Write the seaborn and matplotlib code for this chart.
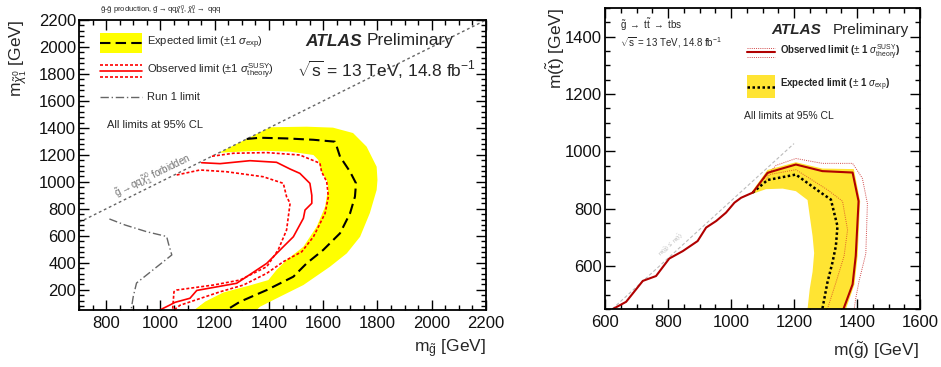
import matplotlib
matplotlib.use("Agg")
import matplotlib.pyplot as plt
import numpy as np
import pandas as pd
import seaborn as sns
from matplotlib.ticker import MultipleLocator
from matplotlib.lines import Line2D
from matplotlib.patches import Rectangle

# ---------------- Left: gluino -> qq chi, chi -> qqq (RPV) ----------------
exp_x = [1318, 1367, 1465, 1564, 1643, 1650, 1662, 1699, 1721, 1717, 1699, 1662, 1600, 1539, 1490, 1392, 1293, 1244]
exp_y = [1318, 1327, 1322, 1312, 1298, 1261, 1187, 1075, 989, 890, 767, 619, 495, 396, 297, 198, 111, 50]

band_out_x = [1405, 1539, 1636, 1710, 1760, 1797, 1800, 1797, 1772, 1736, 1687, 1625, 1527, 1441, 1367, 1355]
band_out_y = [1405, 1409, 1402, 1362, 1261, 1112, 1014, 940, 769, 593, 470, 371, 235, 149, 74, 50]
band_in_x = [1215, 1293, 1379, 1478, 1564, 1582, 1594, 1613, 1619, 1613, 1607, 1576, 1527, 1465, 1428, 1398, 1324, 1232, 1165, 1125]
band_in_y = [1215, 1224, 1231, 1224, 1199, 1162, 1075, 1014, 950, 890, 816, 668, 519, 421, 347, 272, 229, 180, 112, 50]

obs_x = [1152, 1220, 1330, 1428, 1478, 1514, 1551, 1558, 1558, 1533, 1527, 1490, 1453, 1392, 1318, 1281, 1134, 1109, 1054, 1035, 998]
obs_y = [1142, 1135, 1157, 1145, 1095, 1063, 989, 900, 841, 791, 730, 593, 519, 396, 297, 248, 195, 137, 107, 87, 50]

obs_up_x = [1190, 1269, 1392, 1514, 1588, 1594, 1613, 1619, 1607, 1564, 1521, 1453, 1392, 1306, 1220, 1146, 1072, 1050]
obs_up_y = [1190, 1212, 1217, 1199, 1138, 1075, 1001, 890, 767, 593, 482, 408, 322, 235, 185, 135, 85, 50]

obs_dn_x = [1060, 1146, 1244, 1379, 1453, 1465, 1478, 1465, 1434, 1392, 1293, 1195, 1060, 1050, 1045]
obs_dn_y = [1051, 1088, 1075, 1038, 989, 890, 841, 643, 495, 371, 272, 235, 198, 186, 50]

run1_x = [812, 870, 950, 1023, 1030, 1042, 912, 900, 892]
run1_y = [725, 680, 630, 595, 540, 458, 250, 150, 50]

kin_x = [700, 2200]
kin_y = [700, 2200]

# ---------------- Right: gluino -> t stop, stop -> bs ----------------
r_obs_x = [625, 667, 720, 762, 804, 847, 894, 921, 953, 984, 1011, 1032, 1069, 1116, 1159, 1206, 1290, 1386, 1405, 1396, 1386, 1357]
r_obs_y = [450, 475, 548, 565, 626, 652, 687, 734, 757, 786, 821, 838, 856, 925, 939, 954, 931, 926, 826, 635, 536, 450]

r_up_x = [1105, 1143, 1206, 1290, 1386, 1417, 1433, 1428, 1407, 1396, 1391]
r_up_y = [905, 951, 975, 958, 958, 906, 818, 643, 550, 487, 450]

r_dn_x = [1110, 1122, 1206, 1306, 1354, 1370, 1359, 1333, 1306]
r_dn_y = [895, 919, 936, 866, 826, 726, 635, 542, 450]

r_exp_x = [1069, 1116, 1206, 1285, 1317, 1338, 1333, 1322, 1306, 1290]
r_exp_y = [856, 900, 919, 856, 832, 739, 670, 612, 542, 450]

r_band_out_x = [1060, 1116, 1206, 1290, 1390, 1410, 1402, 1392, 1365]
r_band_out_y = [850, 935, 962, 940, 938, 826, 635, 536, 450]
r_band_in_x = [1243, 1250, 1259, 1264, 1259, 1248, 1243, 1206, 1164, 1111, 1069]
r_band_in_y = [450, 520, 580, 645, 704, 790, 830, 861, 870, 868, 852]

r_kin_x = [623, 1200]
r_kin_y = [450, 1027]

# ---------------- style ----------------
sns.set_theme(style="ticks")
plt.rcParams["font.family"] = ["Liberation Sans", "DejaVu Sans"]
plt.rcParams["mathtext.fontset"] = "custom"
plt.rcParams["mathtext.rm"] = "Liberation Sans"
plt.rcParams["mathtext.it"] = "Liberation Sans:italic"
plt.rcParams["mathtext.bf"] = "Liberation Sans:bold"
plt.rcParams["mathtext.sf"] = "Liberation Sans"

W, H = 941, 367
fig = plt.figure(figsize=(W / 100, H / 100), dpi=100)


def fx(x):
    return x / W


def fy(y):
    return 1 - y / H


def line(ax, xs, ys, **kw):
    df = pd.DataFrame({"x": xs, "y": ys})
    sns.lineplot(data=df, x="x", y="y", sort=False, estimator=None, ax=ax, **kw)


def style_axes(ax, xlim, ylim, xminor, yminor):
    ax.set_xlim(*xlim)
    ax.set_ylim(*ylim)
    ax.xaxis.set_major_locator(MultipleLocator(200))
    ax.yaxis.set_major_locator(MultipleLocator(200))
    ax.xaxis.set_minor_locator(MultipleLocator(xminor))
    ax.yaxis.set_minor_locator(MultipleLocator(yminor))
    ax.tick_params(which="both", direction="in", top=True, right=True,
                   color="black", width=1.0, labelsize=12, labelcolor="#111111")
    ax.tick_params(which="major", length=7)
    ax.tick_params(which="minor", length=3.5)
    ax.tick_params(axis="x", pad=4)
    ax.tick_params(axis="y", pad=2)
    for s in ax.spines.values():
        s.set_color("black")
        s.set_linewidth(1.3)
    ax.set_xlabel("")
    ax.set_ylabel("")


# ---------------- left panel ----------------
axL = fig.add_axes([fx(79), fy(310), 407 / W, 290 / H])
band = list(zip(band_out_x, band_out_y)) + list(zip(band_in_x, band_in_y))[::-1]
axL.fill([p[0] for p in band], [p[1] for p in band], color="#ffff00", lw=0, zorder=1)
line(axL, kin_x, kin_y, color="#666666", lw=1.0, linestyle=(0, (2, 2)))
line(axL, run1_x, run1_y, color="#666666", lw=1.0, linestyle=(0, (6, 2, 1, 2)))
line(axL, exp_x, exp_y, color="black", lw=1.5, linestyle=(0, (5, 2.5)))
line(axL, obs_up_x, obs_up_y, color="#ff0000", lw=1.2, linestyle=(0, (1.8, 1.2)))
line(axL, obs_dn_x, obs_dn_y, color="#ff0000", lw=1.2, linestyle=(0, (1.8, 1.2)))
line(axL, obs_x, obs_y, color="#ff0000", lw=1.2)
style_axes(axL, (700, 2200), (50, 2200), 50, 40)

fig.text(fx(100), fy(10),
         r"$\tilde{\mathrm{g}}$-$\tilde{\mathrm{g}}$ production, $\tilde{\mathrm{g}}\rightarrow\mathrm{qq}\tilde{\chi}^0_1$, $\tilde{\chi}^0_1\rightarrow$ qqq",
         fontsize=5.5, ha="left", va="center")
fig.text(fx(305), fy(41), "ATLAS", fontsize=12.5, weight="bold", style="italic", ha="left", va="center")
fig.text(fx(367), fy(41), "Preliminary", fontsize=12.5, ha="left", va="center")
fig.text(fx(297), fy(70), r"$\sqrt{\mathrm{s}}$ = 13 TeV, 14.8 fb$^{-1}$", fontsize=12.5, ha="left", va="center")

# legend entries
fig.add_artist(Rectangle((fx(100), fy(53)), 42 / W, 20 / H, transform=fig.transFigure,
                         facecolor="#ffff00", edgecolor="none"))
fig.add_artist(Line2D([fx(100), fx(142)], [fy(43), fy(43)], transform=fig.transFigure,
                      color="black", lw=1.5, linestyle=(0, (5, 2.5))))
fig.text(fx(147), fy(43), r"Expected limit ($\pm$1 $\sigma_{\mathrm{exp}}$)", fontsize=8, ha="left", va="center")
for yy, ls in [(65, (0, (1.8, 1.2))), (71, "-"), (77, (0, (1.8, 1.2)))]:
    fig.add_artist(Line2D([fx(100), fx(142)], [fy(yy), fy(yy)], transform=fig.transFigure,
                          color="#ff0000", lw=1.2, linestyle=ls))
fig.text(fx(147), fy(71), r"Observed limit ($\pm$1 $\sigma^{\mathrm{SUSY}}_{\mathrm{theory}}$)", fontsize=8, ha="left", va="center")
fig.add_artist(Line2D([fx(100), fx(142)], [fy(97), fy(97)], transform=fig.transFigure,
                      color="#666666", lw=1.0, linestyle=(0, (6, 2, 1, 2))))
fig.text(fx(147), fy(97), "Run 1 limit", fontsize=8, ha="left", va="center")
fig.text(fx(107), fy(125), "All limits at 95% CL", fontsize=8, ha="left", va="center")
fig.text(fx(153), fy(176), r"$\tilde{\mathrm{g}}\rightarrow\mathrm{qq}\tilde{\chi}^0_1$ forbidden", rotation=26,
         color="#707070", fontsize=7, ha="center", va="center", rotation_mode="anchor")

fig.text(fx(18), fy(20), r"m$_{\tilde{\chi}^0_1}$ [GeV]", rotation=90, fontsize=12.5, ha="center", va="top")
fig.text(fx(486), fy(349), r"m$_{\tilde{\mathrm{g}}}$ [GeV]", fontsize=12.5, ha="right", va="center")

# ---------------- right panel ----------------
axR = fig.add_axes([fx(605), fy(309), 315 / W, 301 / H])
rband = list(zip(r_band_out_x, r_band_out_y)) + list(zip(r_band_in_x, r_band_in_y))
axR.fill([p[0] for p in rband], [p[1] for p in rband], color="#ffe433", lw=0, zorder=1)
line(axR, r_kin_x, r_kin_y, color="#bbbbbb", lw=0.8, linestyle=(0, (3, 2)))
line(axR, r_up_x, r_up_y, color="#d04848", lw=0.7, linestyle=(0, (1, 1.2)))
line(axR, r_dn_x, r_dn_y, color="#e0602a", lw=0.7, linestyle=(0, (1, 1.2)))
line(axR, r_exp_x, r_exp_y, color="black", lw=1.8, linestyle=(0, (1, 1)))
line(axR, r_obs_x, r_obs_y, color="#b00000", lw=1.5)
style_axes(axR, (600, 1600), (450, 1500), 50, 50)

fig.text(fx(671), fy(245), r"m($\tilde{\mathrm{g}}$) $\leq$ m($\tilde{\mathrm{t}}$)", rotation=42, color="#bbbbbb",
         fontsize=4, ha="center", va="center", rotation_mode="anchor")
fig.text(fx(620), fy(25), r"$\tilde{\mathrm{g}}$ $\rightarrow$ t$\tilde{\mathrm{t}}$ $\rightarrow$ tbs", fontsize=7, ha="left", va="center")
fig.text(fx(620), fy(43), r"$\sqrt{\mathrm{s}}$ = 13 TeV, 14.8 fb$^{-1}$", fontsize=7, ha="left", va="center")
fig.text(fx(771), fy(30), "ATLAS", fontsize=11, weight="bold", style="italic", ha="left", va="center")
fig.text(fx(833), fy(30), "Preliminary", fontsize=11, ha="left", va="center")

for yy, ls, lw, c in [(47.7, (0, (1, 1.2)), 0.7, "#d04848"), (52, "-", 1.5, "#b00000"), (57, (0, (1, 1.2)), 0.7, "#d04848")]:
    fig.add_artist(Line2D([fx(747), fx(775)], [fy(yy), fy(yy)], transform=fig.transFigure,
                          color=c, lw=lw, linestyle=ls))
fig.text(fx(780), fy(52), r"Observed limit ($\pm$ 1 $\sigma^{\mathrm{SUSY}}_{\mathrm{theory}}$)", fontsize=7,
         weight="bold", ha="left", va="center")
fig.add_artist(Rectangle((fx(747), fy(98)), 28 / W, 23 / H, transform=fig.transFigure,
                         facecolor="#ffe433", edgecolor="none"))
fig.add_artist(Line2D([fx(747), fx(775)], [fy(87), fy(87)], transform=fig.transFigure,
                      color="black", lw=1.8, linestyle=(0, (1, 1))))
fig.text(fx(780), fy(85), r"Expected limit ($\pm$ 1 $\sigma_{\mathrm{exp}}$)", fontsize=7,
         weight="bold", ha="left", va="center")
fig.text(fx(744), fy(116), "All limits at 95% CL", fontsize=7.5, ha="left", va="center")

fig.text(fx(556), fy(8), r"m($\tilde{\mathrm{t}}$) [GeV]", rotation=90, fontsize=12.5, ha="center", va="top")
fig.text(fx(919), fy(351), r"m($\tilde{\mathrm{g}}$) [GeV]", fontsize=12.5, ha="right", va="center")

fig.savefig("out.png", dpi=100)
